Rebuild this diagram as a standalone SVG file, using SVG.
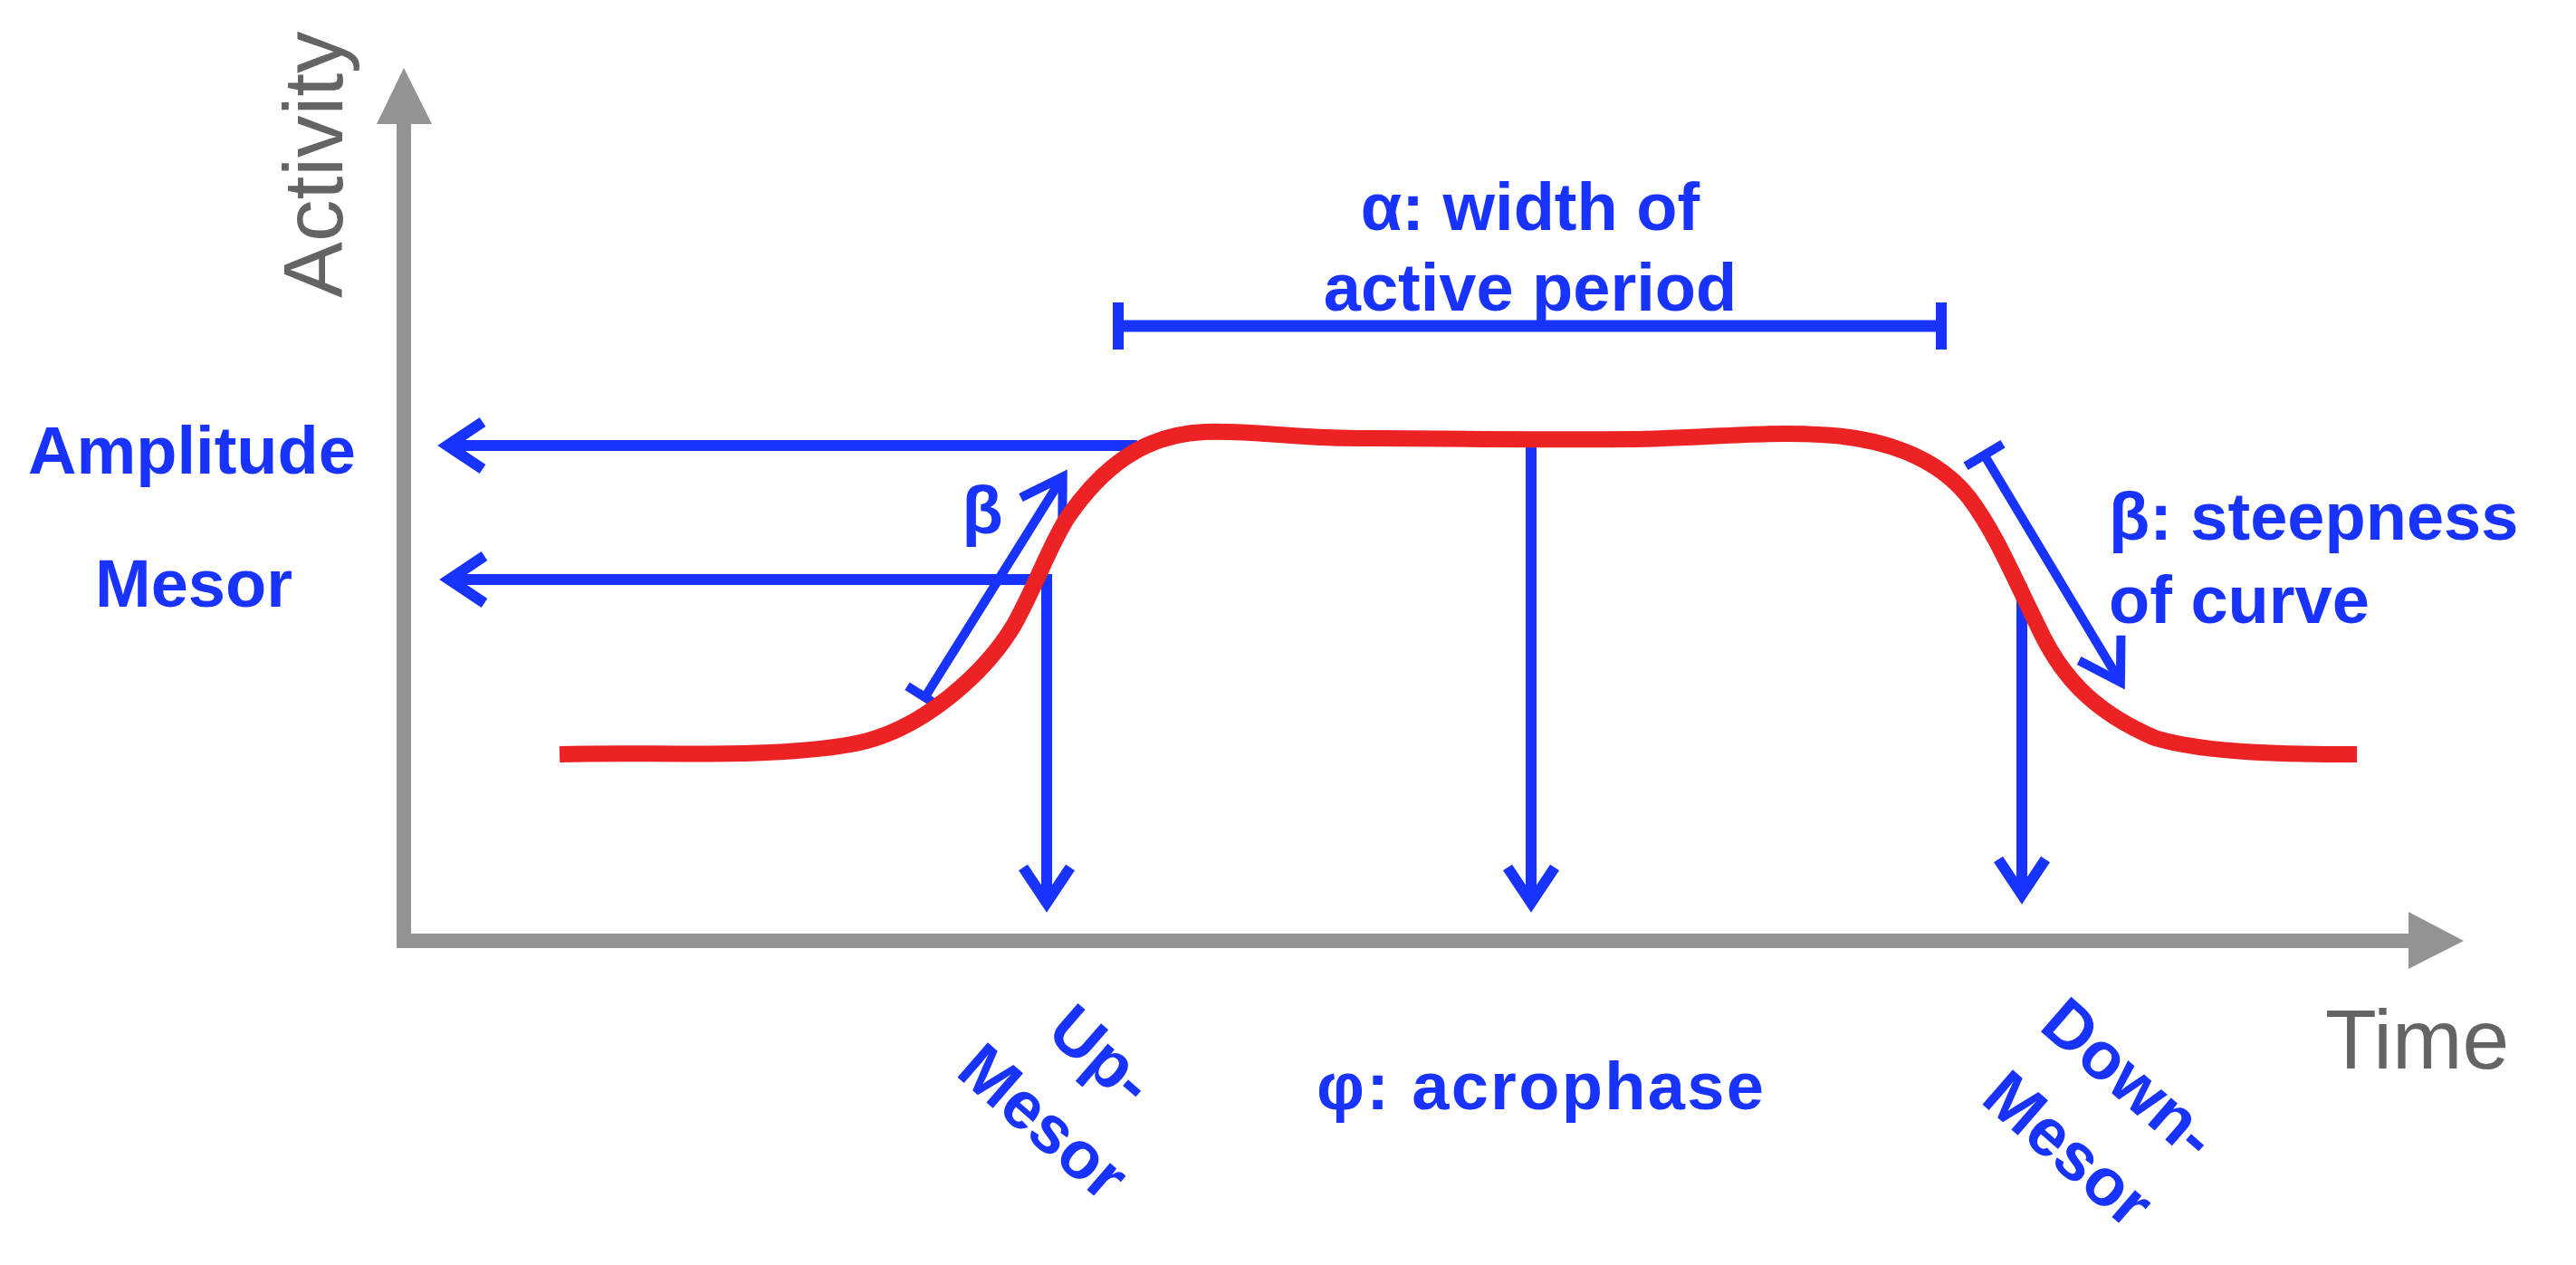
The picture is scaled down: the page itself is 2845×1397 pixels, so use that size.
<svg xmlns="http://www.w3.org/2000/svg" width="2845" height="1397" viewBox="0 0 2845 1397">
<style>
.lbl{font-family:"Liberation Sans",Arial,sans-serif;font-weight:bold;font-size:74px;fill:#1933ff}
.ax{font-family:"Liberation Sans",Arial,sans-serif;font-size:93px;fill:#646464}
.bl{fill:none;stroke:#1933ff;stroke-width:12;stroke-linecap:butt}
.bt{fill:none;stroke:#1933ff;stroke-width:10;stroke-linecap:butt}
</style>
<defs>
<marker id="ah" markerUnits="userSpaceOnUse" orient="auto" refX="0" refY="0" markerWidth="10" markerHeight="10" overflow="visible">
<path d="M -39 -26 L 0 0 L -39 26" fill="none" stroke="#1933ff" stroke-width="12" stroke-linejoin="miter" stroke-miterlimit="10"/>
</marker>
<marker id="ahb" markerUnits="userSpaceOnUse" orient="auto" refX="0" refY="0" markerWidth="10" markerHeight="10" overflow="visible">
<path d="M -44 -27 L 0 0 L -44 27" fill="none" stroke="#1933ff" stroke-width="10" stroke-linejoin="miter" stroke-miterlimit="10"/>
</marker>
</defs>
<rect width="2845" height="1397" fill="#ffffff"/>
<g id="axes">
<line x1="446" y1="1047" x2="446" y2="134" stroke="#939393" stroke-width="16"/>
<polygon points="446,75 416,137 477,137" fill="#939393"/>
<line x1="438" y1="1039" x2="2662" y2="1039" stroke="#939393" stroke-width="16"/>
<polygon points="2721,1039 2660,1007 2660,1070" fill="#939393"/>
<text class="ax" transform="translate(378,329) rotate(-90)">Activity</text>
<text class="ax" x="2568" y="1180">Time</text>
</g>
<g id="connectors">
<path class="bl" d="M 1256 492 L 494 492" marker-end="url(#ah)"/>
<path class="bl" d="M 1160 640 L 496 640" marker-end="url(#ah)"/>
<path class="bl" d="M 1156 634 L 1156 997" marker-end="url(#ah)"/>
<path class="bl" d="M 1691 486 L 1691 997" marker-end="url(#ah)"/>
<path class="bl" d="M 2233 645 L 2233 988" marker-end="url(#ah)"/>
<path class="bl" d="M 1234 360 L 2144 360" style="stroke-width:13"/>
<path class="bl" d="M 1235 334 L 1235 386"/>
<path class="bl" d="M 2144 334 L 2144 386"/>
<path class="bt" d="M 1021.5 770 L 1173.7 526.5" marker-end="url(#ahb)"/>
<path class="bt" d="M 1002 757.7 L 1041 782.3"/>
<path class="bt" d="M 2191.5 502.5 L 2341.9 753.4" marker-end="url(#ahb)"/>
<path class="bt" d="M 2171 514.8 L 2212 490.2"/>
</g>
<g id="curve">
<path d="M 618 833 C 720 830, 850 838, 940 822 C 1020 808, 1090 740, 1120 690 C 1145 645, 1160 600, 1180 570 C 1215 520, 1260 480, 1330 477 C 1390 475, 1420 484, 1500 484 C 1600 484, 1700 486, 1800 485 C 1880 484, 1950 476, 2010 480 C 2080 483, 2140 505, 2175 550 C 2205 590, 2225 640, 2250 690 C 2275 745, 2310 785, 2380 815 C 2440 833, 2540 833, 2603 833" fill="none" stroke="#ed2224" stroke-width="18"/>
</g>
<g id="amplitude"><text class="lbl" x="212" y="523" text-anchor="middle">Amplitude</text></g>
<g id="mesor"><text class="lbl" x="214" y="670" text-anchor="middle">Mesor</text></g>
<g id="beta"><text class="lbl" x="1085" y="589" text-anchor="middle">β</text></g>
<g id="alpha"><text class="lbl" text-anchor="middle"><tspan x="1690" y="254">α: width of</tspan><tspan x="1690" y="343">active period</tspan></text></g>
<g id="steepness"><text class="lbl"><tspan x="2329" y="596">β: steepness</tspan><tspan x="2329" y="688">of curve</tspan></text></g>
<g id="acrophase"><text class="lbl" x="1701" y="1225" text-anchor="middle" textLength="494">φ: acrophase</text></g>
<g id="upmesor" transform="translate(1136,1258) rotate(41)"><text class="lbl" text-anchor="middle"><tspan x="0" y="-98">Up-</tspan><tspan x="0" y="0">Mesor</tspan></text></g>
<g id="downmesor" transform="translate(2268,1288) rotate(41)"><text class="lbl" text-anchor="middle"><tspan x="0" y="-103">Down-</tspan><tspan x="0" y="0">Mesor</tspan></text></g>
</svg>
